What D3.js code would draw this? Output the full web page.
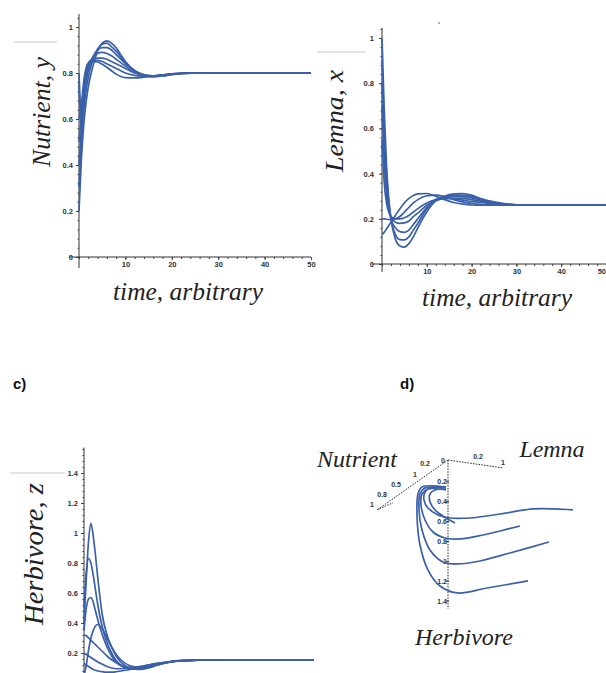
<!DOCTYPE html>
<html><head><meta charset="utf-8">
<script src="https://cdn.jsdelivr.net/npm/d3@7/dist/d3.min.js"></script>
<style>
html,body{margin:0;padding:0;background:#fff;}
svg{display:block;}
.tick text{font-family:"Liberation Sans",Arial,sans-serif;font-weight:bold;font-size:7.5px;fill:#333;}
.tick line{stroke:#444;}
.lab{font-family:"Liberation Serif","Times New Roman",serif;font-style:italic;fill:#222;}
</style></head>
<body>
<script>
// ---------- DATA ----------
// a) Nutrient, y
const nutrientT = [0,0.5,1,1.5,2,3,4,5,6,7,8,9,10,12,14,16,18,20,24,30,40,50];
const nutrient1 = [0.20,0.42,0.57,0.67,0.74,0.83,0.895,0.93,0.94,0.93,0.91,0.88,0.85,0.81,0.79,0.783,0.787,0.793,0.799,0.80,0.80,0.80];
const nutrient2 = [0.30,0.50,0.63,0.72,0.78,0.86,0.905,0.925,0.93,0.915,0.895,0.87,0.845,0.81,0.79,0.785,0.788,0.794,0.799,0.80,0.80,0.80];
const nutrient3 = [0.40,0.56,0.68,0.76,0.81,0.87,0.90,0.91,0.91,0.90,0.88,0.86,0.84,0.81,0.792,0.786,0.789,0.795,0.799,0.80,0.80,0.80];
const nutrient4 = [0.50,0.62,0.73,0.79,0.83,0.87,0.885,0.89,0.885,0.875,0.86,0.845,0.83,0.805,0.792,0.788,0.79,0.795,0.80,0.80,0.80,0.80];
const nutrient5 = [0.60,0.66,0.76,0.82,0.845,0.86,0.865,0.865,0.86,0.85,0.84,0.83,0.82,0.80,0.79,0.788,0.791,0.796,0.80,0.80,0.80,0.80];
const nutrient6 = [0.80,0.62,0.72,0.80,0.84,0.855,0.855,0.85,0.84,0.83,0.82,0.81,0.80,0.79,0.785,0.787,0.791,0.796,0.80,0.80,0.80,0.80];
const nutrient7 = [0.75,0.55,0.66,0.76,0.82,0.85,0.848,0.838,0.825,0.81,0.795,0.785,0.78,0.779,0.782,0.787,0.792,0.796,0.80,0.80,0.80,0.80];

// b) Lemna, x
const lemnaT = [0,0.5,1,1.5,2,3,4,5,6,7,8,10,12,14,16,18,20,22,25,30,40,50];
const lemna1 = [1.0,0.68,0.44,0.29,0.2,0.11,0.08,0.075,0.09,0.12,0.16,0.23,0.28,0.30,0.31,0.312,0.305,0.29,0.275,0.262,0.26,0.26];
const lemna2 = [0.9,0.6,0.4,0.28,0.2,0.13,0.108,0.107,0.12,0.15,0.18,0.245,0.285,0.30,0.305,0.305,0.298,0.288,0.272,0.262,0.26,0.26];
const lemna3 = [0.8,0.52,0.36,0.26,0.2,0.16,0.143,0.14,0.15,0.175,0.2,0.25,0.28,0.295,0.3,0.298,0.292,0.283,0.27,0.262,0.26,0.26];
const lemna4 = [0.7,0.45,0.31,0.24,0.21,0.185,0.18,0.182,0.19,0.21,0.225,0.26,0.28,0.29,0.292,0.29,0.285,0.278,0.268,0.261,0.26,0.26];
const lemna5 = [0.55,0.36,0.27,0.23,0.21,0.2,0.2,0.205,0.215,0.23,0.245,0.27,0.285,0.29,0.288,0.283,0.277,0.272,0.266,0.261,0.26,0.26];
const lemna6 = [0.2,0.2,0.198,0.197,0.197,0.2,0.21,0.23,0.25,0.27,0.285,0.302,0.305,0.298,0.285,0.275,0.268,0.264,0.261,0.26,0.26,0.26];
const lemna7 = [0.13,0.14,0.155,0.17,0.185,0.215,0.245,0.27,0.29,0.303,0.31,0.312,0.3,0.285,0.272,0.265,0.261,0.26,0.26,0.26,0.26,0.26];

// c) Herbivore, z
const herbT = [0,0.5,1,1.5,2,2.5,3,4,5,6,7,8,10,12,14,16,18,20,25,30,40,50];
const herb1 = [0.40,0.70,0.95,1.065,0.98,0.85,0.70,0.45,0.32,0.24,0.18,0.14,0.10,0.09,0.10,0.12,0.135,0.145,0.153,0.155,0.155,0.155];
const herb2 = [0.50,0.74,0.83,0.80,0.72,0.62,0.52,0.37,0.27,0.20,0.15,0.12,0.095,0.095,0.105,0.12,0.135,0.145,0.153,0.155,0.155,0.155];
const herb3 = [0.35,0.50,0.56,0.57,0.54,0.48,0.42,0.32,0.24,0.18,0.14,0.115,0.10,0.10,0.11,0.125,0.137,0.146,0.153,0.155,0.155,0.155];
const herb4 = [0.05,0.12,0.22,0.30,0.35,0.38,0.39,0.36,0.30,0.24,0.19,0.155,0.115,0.105,0.11,0.123,0.136,0.145,0.153,0.155,0.155,0.155];
const herb5 = [0.32,0.315,0.30,0.285,0.27,0.255,0.24,0.21,0.18,0.155,0.135,0.12,0.105,0.105,0.115,0.127,0.138,0.146,0.153,0.155,0.155,0.155];
const herb6 = [0.20,0.19,0.18,0.17,0.16,0.15,0.14,0.125,0.11,0.10,0.095,0.095,0.10,0.11,0.12,0.13,0.14,0.147,0.153,0.155,0.155,0.155];
const herb7 = [0.13,0.12,0.11,0.10,0.09,0.085,0.08,0.075,0.072,0.072,0.075,0.08,0.09,0.105,0.12,0.132,0.14,0.147,0.153,0.155,0.155,0.155];

// d) phase portrait, projected (horizontal u, herbivore h)
const phase1U = [-0.02,-0.18,-0.23,-0.24,-0.20,-0.10,0.02,0.22,0.52,0.85,1.07,1.25];
const phase1H = [0.252,0.262,0.302,0.383,0.463,0.534,0.564,0.564,0.524,0.473,0.473,0.483];
const phase2U = [-0.02,-0.13,-0.18,-0.18,-0.12,-0.02,0.07];
const phase2H = [0.272,0.282,0.322,0.403,0.493,0.564,0.614];
const phase3U = [-0.02,-0.20,-0.26,-0.27,-0.23,-0.15,-0.03,0.12,0.35,0.52,0.72];
const phase3H = [0.282,0.272,0.322,0.433,0.584,0.705,0.765,0.775,0.735,0.695,0.645];
const phase4U = [-0.02,-0.23,-0.28,-0.29,-0.26,-0.18,-0.05,0.10,0.32,0.62,1.01];
const phase4H = [0.262,0.262,0.322,0.483,0.685,0.886,1.007,1.027,0.997,0.916,0.806];
const phase5U = [-0.02,-0.26,-0.30,-0.31,-0.28,-0.20,-0.08,0.09,0.39,0.80];
const phase5H = [0.252,0.252,0.322,0.534,0.836,1.088,1.249,1.319,1.269,1.198];

// tick labels
const timeTicks = [10,20,30,40,50];
const unitTicks = [0,0.2,0.4,0.6,0.8,1];
const herbTicks = [0.2,0.4,0.6,0.8,1,1.2,1.4];
const phaseHerbTicks = ["0.2","0.4","0.6","0.8","1","1.2","1.4"];
const phaseNutrientTicks = ["0","0.2","1","0.5","0.8","1"];
const phaseLemnaTicks = ["0.2","1"];

// ---------- DRAWING ----------
const W = 606, H = 673;
const BLUE = "#3a60aa";
const svg = d3.select("body").append("svg").attr("width", W).attr("height", H);

function grayRule(x1, x2, y) {
  svg.append("line").attr("x1", x1).attr("x2", x2).attr("y1", y).attr("y2", y)
    .attr("stroke", "#c8c8c8").attr("stroke-width", 1);
}
function rotLabel(x, y, txt, len, size) {
  svg.append("text").attr("class", "lab")
    .attr("transform", `translate(${x},${y}) rotate(-90)`)
    .attr("text-anchor", "middle").attr("font-size", size)
    .attr("textLength", len).attr("lengthAdjust", "spacingAndGlyphs")
    .text(txt);
}
function hLabel(x, y, txt, len, size) {
  svg.append("text").attr("class", "lab")
    .attr("x", x).attr("y", y).attr("text-anchor", "middle").attr("font-size", size)
    .attr("textLength", len).attr("lengthAdjust", "spacingAndGlyphs")
    .text(txt);
}

function timePanel(opt) {
  const {x, y, t, series, yTicks, yMinorStep, yTop, yBottom, xAxis, labPad} = opt;
  const g = svg.append("g");
  const yMinor = d3.range(y.domain()[0], yTop + 1e-9, yMinorStep);
  g.append("g").attr("transform", `translate(${x(0)},0)`)
    .call(d3.axisLeft(y).tickValues(yMinor).tickSize(1.5).tickFormat(""))
    .call(a => a.select(".domain").remove())
    .selectAll("line").attr("stroke", "#666");
  g.append("g").attr("transform", `translate(${x(0)},0)`)
    .call(d3.axisLeft(y).tickValues(yTicks).tickSize(3).tickPadding(labPad).tickFormat(d => d3.format("~g")(d)))
    .call(a => a.select(".domain").remove());
  g.append("line").attr("x1", x(0)).attr("x2", x(0)).attr("y1", y(yTop)).attr("y2", yBottom)
    .attr("stroke", "#333").attr("stroke-width", 1);
  if (xAxis) {
    g.append("g").attr("transform", `translate(0,${y(0)})`)
      .call(d3.axisBottom(x).tickValues(d3.range(0, 51, 2)).tickSize(2).tickFormat(""))
      .call(a => a.select(".domain").remove())
      .selectAll("line").attr("stroke", "#666");
    const xa = g.append("g").attr("transform", `translate(0,${y(0)})`)
      .call(d3.axisBottom(x).tickValues(timeTicks).tickSize(3).tickPadding(2).tickFormat(d3.format("d")))
      .call(a => a.select(".domain").remove());
    // keep the last label inside the picture when the axis runs to the edge
    xa.selectAll(".tick text").filter(d => x(d) + 6 > W).attr("text-anchor", "end").attr("x", W - x(50) - 0.5);
    g.append("line").attr("x1", x(0) - 10).attr("x2", x(50)).attr("y1", y(0)).attr("y2", y(0))
      .attr("stroke", "#333").attr("stroke-width", 1);
  }
  const line = d3.line().x((d, i) => x(t[i])).y(d => y(d)).curve(d3.curveMonotoneX);
  g.selectAll("path.s").data(series).join("path").attr("class", "s")
    .attr("d", line).attr("fill", "none").attr("stroke", BLUE)
    .attr("stroke-width", 1.7).attr("stroke-linejoin", "round");
}

// a)
const xA = d3.scaleLinear([0, 50], [79, 311]);
const yA = d3.scaleLinear([0, 1], [257, 27]);
timePanel({x: xA, y: yA, t: nutrientT,
  series: [nutrient1, nutrient2, nutrient3, nutrient4, nutrient5, nutrient6, nutrient7],
  yTicks: unitTicks, yMinorStep: 0.04, yTop: 1.056, yBottom: 268, xAxis: true, labPad: 3});
grayRule(14, 57, 42);
rotLabel(50, 112, "Nutrient, y", 110, 25);
hLabel(188, 300, "time, arbitrary", 150, 26);

// b)
const xB = d3.scaleLinear([0, 50], [382, 606]);
const yB = d3.scaleLinear([0, 1], [264, 38]);
timePanel({x: xB, y: yB, t: lemnaT,
  series: [lemna1, lemna2, lemna3, lemna4, lemna5, lemna6, lemna7],
  yTicks: unitTicks, yMinorStep: 0.04, yTop: 1.045, yBottom: 272, xAxis: true, labPad: 5});
grayRule(317, 366, 52);
rotLabel(343, 121, "Lemna, x", 102, 26);
hLabel(497, 306, "time, arbitrary", 150, 26);
svg.append("circle").attr("cx", 439).attr("cy", 23).attr("r", 0.8).attr("fill", "#555");

// c)
svg.append("text").attr("x", 13).attr("y", 389).attr("font-family", "Liberation Sans, Arial, sans-serif")
  .attr("font-weight", "bold").attr("font-size", 15).attr("fill", "#111").text("c)");
const xC = d3.scaleLinear([0, 50], [84, 314]);
const yC = d3.scaleLinear([0, 1.4], [683, 473]);
timePanel({x: xC, y: yC, t: herbT,
  series: [herb1, herb2, herb3, herb4, herb5, herb6, herb7],
  yTicks: herbTicks, yMinorStep: 0.04, yTop: 1.57, yBottom: 673, xAxis: false, labPad: 3});
grayRule(10, 65, 473);
rotLabel(43, 554, "Herbivore, z", 142, 27);

// d)
svg.append("text").attr("x", 400).attr("y", 389).attr("font-family", "Liberation Sans, Arial, sans-serif")
  .attr("font-weight", "bold").attr("font-size", 15).attr("fill", "#111").text("d)");
const uD = d3.scaleLinear([0, 1], [448, 548]);
const hD = d3.scaleLinear([0, 1.4], [462, 601]);
const gd = svg.append("g");
const axStyle = s => s.attr("stroke", "#333").attr("stroke-width", 1).attr("stroke-dasharray", "1.6,1.2");
axStyle(gd.append("line").attr("x1", uD(0)).attr("x2", uD(0)).attr("y1", hD(-0.02)).attr("y2", hD(1.48)));
axStyle(gd.append("line").attr("x1", uD(0)).attr("y1", hD(-0.02)).attr("x2", uD(0.55)).attr("y2", hD(0.06)));
axStyle(gd.append("line").attr("x1", uD(0)).attr("y1", hD(-0.02)).attr("x2", uD(-0.71)).attr("y2", hD(0.483)));
axStyle(gd.append("line").attr("x1", uD(-0.71)).attr("y1", hD(0.483)).attr("x2", uD(-0.55)).attr("y2", hD(0.41)));

const tickFont = s => s.attr("font-family", "Liberation Sans, Arial, sans-serif").attr("font-weight", "bold")
  .attr("font-size", 7).attr("fill", "#333");
gd.selectAll("text.ht").data(phaseHerbTicks).join("text").attr("class", "ht")
  .attr("x", uD(-0.01)).attr("y", d => hD(+d) + 2.5).attr("text-anchor", "end").call(tickFont).text(d => d);
gd.selectAll("line.htk").data(phaseHerbTicks).join("line").attr("class", "htk")
  .attr("x1", uD(-0.02)).attr("x2", uD(0.01)).attr("y1", d => hD(+d)).attr("y2", d => hD(+d)).attr("stroke", "#333");
const lemnaPos = [[478, 459], [503, 465]];
gd.selectAll("text.lt").data(phaseLemnaTicks).join("text").attr("class", "lt")
  .attr("x", (d, i) => lemnaPos[i][0]).attr("y", (d, i) => lemnaPos[i][1]).attr("text-anchor", "middle")
  .call(tickFont).text(d => d);
const nutPos = [[443, 463], [425, 466], [415, 477], [396, 487], [382, 497], [372, 507]];
gd.selectAll("text.nt").data(phaseNutrientTicks).join("text").attr("class", "nt")
  .attr("x", (d, i) => nutPos[i][0]).attr("y", (d, i) => nutPos[i][1]).attr("text-anchor", "middle")
  .call(tickFont).text(d => d);

const phase = [[phase1U, phase1H], [phase2U, phase2H], [phase3U, phase3H], [phase4U, phase4H], [phase5U, phase5H]];
const pLine = d3.line().x(d => uD(d[0])).y(d => hD(d[1])).curve(d3.curveCatmullRom.alpha(0.5));
gd.selectAll("path.p").data(phase.map(([u, h]) => u.map((v, i) => [v, h[i]]))).join("path").attr("class", "p")
  .attr("d", pLine).attr("fill", "none").attr("stroke", BLUE).attr("stroke-width", 1.7);

svg.append("text").attr("class", "lab").attr("x", 357).attr("y", 467).attr("text-anchor", "middle")
  .attr("font-size", 24).attr("textLength", 80).text("Nutrient");
svg.append("text").attr("class", "lab").attr("x", 552).attr("y", 457).attr("text-anchor", "middle")
  .attr("font-size", 24).attr("textLength", 65).text("Lemna");
svg.append("text").attr("class", "lab").attr("x", 464).attr("y", 645).attr("text-anchor", "middle")
  .attr("font-size", 24).attr("textLength", 98).text("Herbivore");
</script>
</body></html>
